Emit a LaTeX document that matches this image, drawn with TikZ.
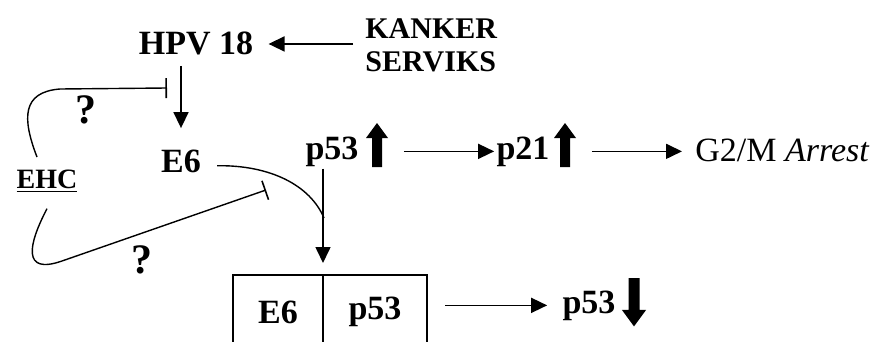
\documentclass[tikz,border=0pt]{standalone}
\usepackage{fontspec}
\setmainfont{Liberation Serif}
\usetikzlibrary{arrows.meta}
\begin{document}
\begin{tikzpicture}[x=0.5pt,y=-0.5pt,
  txt/.style={font=\fontsize{17}{17}\selectfont\bfseries, inner sep=1pt, anchor=base},
  act/.style={line width=0.8pt, -{Triangle[length=8pt,width=7.5pt]}},
  inh/.style={line width=0.7pt, -{Bar[width=10pt,line width=0.8pt]}},
  curv/.style={line width=0.7pt},
  cell/.style={draw, line width=1pt, minimum height=37pt, inner sep=0pt, outer sep=0pt,
    anchor=north west, font=\fontsize{17}{17}\selectfont\bfseries},
  qmark/.style={font=\fontsize{21}{21}\selectfont\bfseries, inner sep=0pt},
  fatup/.pic={\fill (-2.5pt,0pt) -- (-2.5pt,14.5pt) -- (-5.5pt,14.5pt) -- (0pt,22pt)
    -- (5.5pt,14.5pt) -- (2.5pt,14.5pt) -- (2.5pt,0pt) -- cycle;}]
  \clip (0,0) rectangle (877,342);

  \node[txt] (hpv) at (196,55) {HPV 18};
  \node[txt, anchor=base west, align=left, font=\fontsize{15}{17}\selectfont\bfseries]
    (kanker) at (363,72) {KANKER\\SERVIKS};
  \node[txt] (e6) at (181,172) {E6};
  \node[txt, font=\fontsize{14}{14}\selectfont\bfseries] (ehc) at (47,188) {\underline{EHC}};
  \node[txt] (p53) at (332,159) {p53};
  \node[txt] (p21) at (523,159) {p21};
  \node[txt, anchor=base west, font=\fontsize{17}{17}\selectfont] (g2m) at (693,161) {G2/M \textit{Arrest}};
  \node[cell, minimum width=45pt] (e6b) at (233,275) {E6};
  \node[cell, minimum width=52pt] (p53b) at (e6b.north east) {p53};
  \node[txt] (p53low) at (589,313) {p53};
  \node[qmark] (q1) at (86,110) {?};
  \node[qmark] (q2) at (142,260) {?};

  \pic at (377,167) {fatup};
  \pic at (565,167) {fatup};
  \pic[rotate=180, scale=1.1] at (634,278) {fatup};

  \coordinate (bar1) at (167,88);
  \coordinate (bar2) at (266,190);
  \coordinate (meet) at (324,218);

  \draw[act, shorten <=5pt, shorten >=6.5pt] (kanker.west |- hpv.east) -- (hpv.east);
  \draw[act, shorten <=4pt, shorten >=9.5pt] (hpv.south -| e6.north) -- (e6.north);
  \draw[inh] ([xshift=-5pt,yshift=5pt]ehc.north) .. controls (22,118) and (22,92) .. (60,89) -- (bar1);
  \draw[inh] ([yshift=-7pt]ehc.south) .. controls (28,245) and (22,275) .. (62,261) -- (bar2);
  \draw[curv, shorten <=7pt] ([yshift=-2.5pt]e6.east) .. controls (270,165) and (310,185) .. (meet);
  \draw[act, shorten >=6pt] (p53.south -| e6b.north east) -- (e6b.north east);
  \draw[act, shorten <=21.5pt] (p53.east) -- (p21.west);
  \draw[act, shorten <=20pt, shorten >=5.5pt] (p21.east) -- (p21.east -| g2m.west);
  \draw[act, shorten <=9pt, shorten >=6.5pt] (p53b.east |- p53low.west) -- (p53low.west);
\end{tikzpicture}
\end{document}
